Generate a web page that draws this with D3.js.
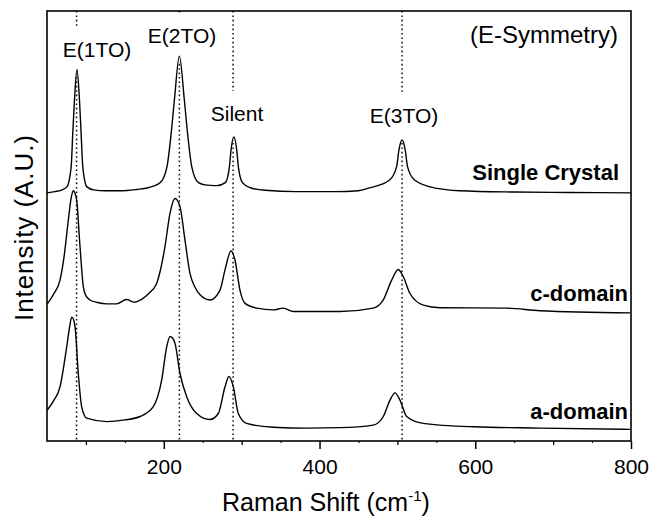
<!DOCTYPE html>
<html>
<head>
<meta charset="utf-8">
<script src="https://cdn.jsdelivr.net/npm/d3@7"></script>
<style>
    body { margin: 0; background: #fff; }
    svg { display: block; font-family: "Liberation Sans", Arial, sans-serif; }
</style>
</head>
<body>
<div id="chart-area"></div>
<script>
// Raman shift (cm-1) and intensity (A.U., stacked) for each spectrum
const singleCrystalShift = [50, 60, 68, 75.6, 81, 83.1, 85.3, 88.5, 91.7, 93.8, 96, 101.3, 110, 125, 145, 165, 180,
    195.5, 204, 209.5, 213.6, 220, 226.4, 230.5, 236, 244.5, 255, 265,
    268, 279, 284.2, 286.3, 290, 293.7, 295.8, 301, 311, 330, 370, 420, 450,
    463, 490, 499, 502, 506, 510, 513, 522, 549, 580, 650, 720, 800];
const singleCrystalIntensity = [57.7, 58.0, 58.3, 59.1, 63.7, 71.6, 79.3, 86.4, 79.3, 71.6, 63.7, 59.1, 58.4, 58.2, 58.2, 58.5, 58.9,
    60.1, 63.7, 71.6, 79.3, 89.5, 79.3, 71.6, 63.7, 60.1, 59.5, 59.4,
    59.4, 60.1, 63.7, 67.6, 70.7, 67.6, 63.7, 60.1, 58.9, 58.3, 58.0, 58.0, 58.2,
    58.8, 60.7, 63.8, 67.7, 70.0, 67.7, 63.8, 60.7, 58.8, 58.2, 57.9, 57.8, 57.7];

const cDomainShift = [50.4, 58, 66.7, 72, 77.4, 81, 83.8, 86, 88.1, 92.4, 96.6, 100, 105.2, 115, 126.7,
    139.5, 152.3, 162, 172, 180, 190.9, 196, 201.5, 208, 214.4, 220.8, 227.2, 233.6, 240, 246.5, 259.3,
    272.2, 278.6, 286.3, 291.4, 297.8, 304.3, 319.3, 340.6, 353.5, 366.3, 426.3,
    469, 481.9, 492.6, 501.1, 507.6, 516.2, 533.2, 554.7, 640.3, 683.1, 798.7];
const cDomainIntensity = [31.9, 34.0, 37.4, 43.0, 51.4, 56.5, 58.2, 57.6, 56.0, 45.2, 35.9, 33.8, 32.8, 32.2, 31.9,
    31.9, 32.9, 32.3, 33.0, 34.2, 36.7, 40.0, 45.2, 53.0, 56.4, 54.5, 46.7, 39.0, 35.8, 34.0, 32.8,
    35.1, 39.8, 44.2, 42.1, 35.1, 32.0, 30.9, 30.5, 30.9, 30.1, 30.1,
    30.9, 32.8, 37.4, 39.9, 38.2, 34.3, 31.6, 31.0, 30.9, 30.3, 29.8];

const aDomainShift = [50.4, 58, 66.7, 75.3, 79, 81.7, 84, 86, 90.2, 94.5, 101, 126.7, 150, 169.4,
    186.5, 197.3, 203.7, 208, 211, 214.4, 220.8, 229.4, 242.2, 259.3, 270, 278.6, 283.7, 289.3,
    295.7, 306.5, 340.6, 383.5, 426.3, 469, 481.9, 490.5, 496.9, 503.3, 511.9, 533.2, 597.5, 683.1, 798.7];
const aDomainIntensity = [7.2, 9.2, 12.6, 21.9, 26.5, 28.8, 28.3, 26.6, 15.7, 8.0, 5.3, 4.5, 4.9, 5.7,
    8.0, 14.2, 21.9, 24.3, 24.0, 22.7, 15.7, 10.3, 6.4, 5.0, 6.4, 12.6, 15.0, 12.6,
    6.4, 4.1, 3.2, 3.0, 3.1, 3.7, 5.7, 9.5, 11.2, 9.5, 5.7, 4.1, 3.3, 3.0, 2.7];

const seriesNames = ['Single Crystal', 'c-domain', 'a-domain'];

// Phonon modes marked with dotted lines
const modeNames = ['E(1TO)', 'E(2TO)', 'Silent', 'E(3TO)'];
const modeShifts = [88, 220, 289, 506];

const xTickValues = [200, 400, 600, 800];
const xMidTicks = [100, 300, 500, 700];
const xMinorTicks = [150, 250, 350, 450, 550, 650, 750];

;(function () {
    'use strict';

    const WIDTH = 661;
    const HEIGHT = 516;
    const MARGIN = {LEFT: 47, RIGHT: 30, TOP: 11, BOTTOM: 75};

    const wGraph = WIDTH - MARGIN.LEFT - MARGIN.RIGHT;
    const hGraph = HEIGHT - MARGIN.TOP - MARGIN.BOTTOM;

    const svg = d3.select('#chart-area').append('svg')
        .attr('width', WIDTH)
        .attr('height', HEIGHT);

    const group = svg.append('g')
        .attr('transform', `translate(${MARGIN.LEFT}, ${MARGIN.TOP})`);

    const xScale = d3.scaleLinear()
        .domain([50, 800])
        .range([0, wGraph]);

    const yScale = d3.scaleLinear()
        .domain([0, 100])
        .range([hGraph, 0]);

    // Dotted guide lines at the mode positions
    group.selectAll('line.mode')
        .data(modeShifts)
        .enter()
        .append('line')
        .attr('class', 'mode')
        .attr('x1', d => xScale(d))
        .attr('x2', d => xScale(d))
        .attr('y1', 0)
        .attr('y2', hGraph)
        .attr('stroke', '#111')
        .attr('stroke-width', 1.5)
        .attr('stroke-dasharray', '1.6,2.8');

    // Mode labels, each on a white patch that interrupts its dotted line
    // (positions relative to the plot area)
    const labelPos = [
        {x: 50, y: 46},
        {x: 135, y: 32},
        {x: 190, y: 110},
        {x: 357, y: 112}
    ];
    const labels = group.selectAll('text.mode')
        .data(modeNames)
        .enter()
        .append('text')
        .attr('class', 'mode')
        .attr('x', (d, i) => labelPos[i].x)
        .attr('y', (d, i) => labelPos[i].y)
        .attr('text-anchor', 'middle')
        .attr('font-size', '21px')
        .text(d => d);

    labels.each(function () {
        const b = this.getBBox();
        d3.select(this.parentNode).insert('rect', 'text.mode')
            .attr('x', b.x - 2)
            .attr('y', b.y - 11)
            .attr('width', b.width + 4)
            .attr('height', b.height + 26)
            .attr('fill', '#fff');
    });

    group.append('text')
        .attr('x', 571)
        .attr('y', 32)
        .attr('text-anchor', 'end')
        .attr('font-size', '24px')
        .text('(E-Symmetry)');

    // Spectra
    const spectra = [
        {shift: singleCrystalShift, intensity: singleCrystalIntensity},
        {shift: cDomainShift, intensity: cDomainIntensity},
        {shift: aDomainShift, intensity: aDomainIntensity}
    ];

    const line = d3.line()
        .x(d => xScale(d[0]))
        .y(d => yScale(d[1]))
        .curve(d3.curveMonotoneX);

    group.selectAll('path.spectrum')
        .data(spectra)
        .enter()
        .append('path')
        .attr('class', 'spectrum')
        .attr('d', d => line(d3.zip(d.shift, d.intensity)))
        .attr('fill', 'none')
        .attr('stroke', '#000')
        .attr('stroke-width', 1.4);

    // Sample names at the right end of each trace
    const nameX = [572, 581, 581];
    const nameY = [169, 290, 408];
    group.selectAll('text.series')
        .data(seriesNames)
        .enter()
        .append('text')
        .attr('class', 'series')
        .attr('x', (d, i) => nameX[i])
        .attr('y', (d, i) => nameY[i])
        .attr('text-anchor', 'end')
        .attr('font-size', '22px')
        .attr('font-weight', 'bold')
        .text(d => d);

    // X axis: labelled ticks every 200, shorter ones between
    const xAxisCall = d3.axisBottom(xScale)
        .tickValues(xTickValues)
        .tickSize(8)
        .tickPadding(10);
    const xAxis = group.append('g')
        .attr('class', 'x axis')
        .attr('transform', `translate(0, ${hGraph})`)
        .call(xAxisCall);
    xAxis.select('.domain').remove();
    xAxis.selectAll('text')
        .attr('font-size', '21px')
        .attr('font-family', '"Liberation Sans", Arial, sans-serif')
        .attr('fill', '#000');
    xAxis.selectAll('line').attr('stroke-width', 1.5);

    const midAxis = group.append('g')
        .attr('transform', `translate(0, ${hGraph})`)
        .call(d3.axisBottom(xScale).tickValues(xMidTicks).tickSize(4).tickFormat(''));
    midAxis.select('.domain').remove();
    midAxis.selectAll('line').attr('stroke-width', 1.3);

    const minorAxis = group.append('g')
        .attr('transform', `translate(0, ${hGraph})`)
        .call(d3.axisBottom(xScale).tickValues(xMinorTicks).tickSize(2).tickFormat(''));
    minorAxis.select('.domain').remove();

    // Frame
    group.append('rect')
        .attr('x', 0)
        .attr('y', 0)
        .attr('width', wGraph)
        .attr('height', hGraph)
        .attr('fill', 'none')
        .attr('stroke', '#000')
        .attr('stroke-width', 1.6);

    // Axis titles
    const xTitle = svg.append('text')
        .attr('x', 222)
        .attr('y', 511)
        .attr('font-size', '25px');
    xTitle.append('tspan').text('Raman Shift (cm');
    xTitle.append('tspan')
        .attr('font-size', '15px')
        .attr('dy', -10)
        .text('-1');
    xTitle.append('tspan')
        .attr('dy', 10)
        .text(')');

    svg.append('text')
        .attr('transform', 'rotate(-90)')
        .attr('x', -228)
        .attr('y', 33)
        .attr('text-anchor', 'middle')
        .attr('font-size', '26px')
        .attr('textLength', 186)
        .text('Intensity (A.U.)');
})();
</script>
</body>
</html>
